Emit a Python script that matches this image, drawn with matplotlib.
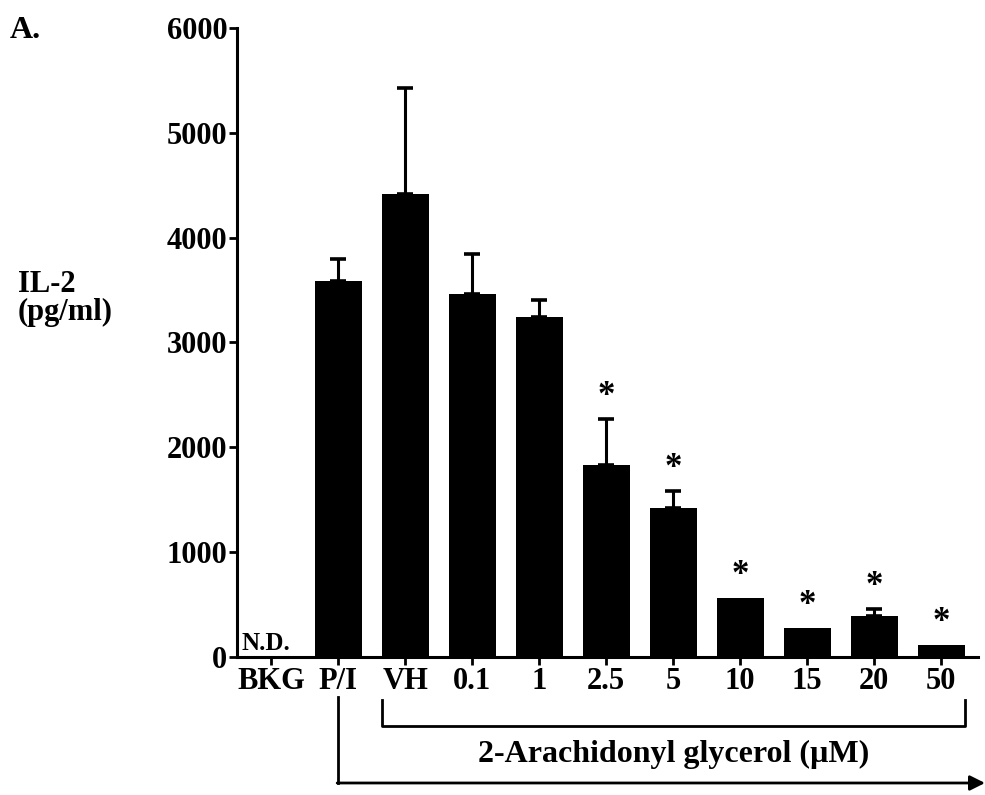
import numpy as np
import matplotlib.pyplot as plt
from matplotlib.transforms import blended_transform_factory

# IL-2 production, mean and upper error (pg/ml)
groups = ["BKG", "P/I", "VH", "0.1", "1", "2.5", "5", "10", "15", "20", "50"]
il2 = [0, 3590, 4420, 3460, 3240, 1830, 1420, 560, 275, 390, 115]
il2_err = [0, 210, 1010, 385, 165, 440, 165, 0, 0, 65, 0]
significant = [False, False, False, False, False, True, True, True, True, True, True]

plt.rcParams['font.family'] = ['Liberation Serif', 'DejaVu Serif']
plt.rcParams['font.weight'] = 'bold'

fig = plt.figure(figsize=(9.85, 7.95), dpi=100)
ax = fig.add_axes([0.2406, 0.1736, 0.7523, 0.7912])

x = np.arange(len(groups))
bar_w = 0.7
ax.bar(x, il2, width=bar_w, color='black', zorder=2)
yerr = np.vstack([np.zeros(len(il2_err)), il2_err])
has_err = np.array(il2_err) > 0
ax.errorbar(x[has_err], np.array(il2)[has_err], yerr=yerr[:, has_err],
            fmt='none', ecolor='black', elinewidth=2.2, capsize=5.5,
            capthick=2.6, zorder=1)

# significance stars above each bar / error bar
for xi, v, e, s in zip(x, il2, il2_err, significant):
    if s:
        ax.text(xi, v + e + 215, '*', ha='center', va='center',
                fontsize=25, fontweight='bold')

ax.text(-0.44, 20, 'N.D.', ha='left', va='bottom', fontsize=18,
        fontweight='bold')

ax.set_ylim(0, 6000)
ax.set_xlim(-0.51, 10.55)
ax.set_yticks(range(0, 6001, 1000))
ax.set_xticks(x)
ax.set_xticklabels(groups)
for side in ['top', 'right']:
    ax.spines[side].set_visible(False)
for side in ['left', 'bottom']:
    ax.spines[side].set_linewidth(2.2)
ax.tick_params(axis='both', length=5.5, width=2, pad=1.5, labelsize=22,
               direction='out')
for lab in ax.get_xticklabels() + ax.get_yticklabels():
    lab.set_fontweight('bold')

fig.text(0.010, 0.962, 'A.', fontsize=23, fontweight='bold', va='center')
fig.text(0.018, 0.625, 'IL-2\n(pg/ml)', fontsize=22, fontweight='bold',
         va='center', ha='left', linespacing=0.95)

# bracket under the 2-AG concentrations
tr = blended_transform_factory(ax.transData, fig.transFigure)
left = x[2] - bar_w / 2
right = x[-1] + bar_w / 2
ax.plot([left, left, right, right], [0.1195, 0.0868, 0.0868, 0.1195],
        color='black', lw=2, transform=tr, clip_on=False)
ax.text((left + right) / 2, 0.051, '2-Arachidonyl glycerol (µM)',
        transform=tr, ha='center', va='center', fontsize=23,
        fontweight='bold')

# arrow from P/I running along the bottom
ax.plot([x[1], x[1]], [0.123, 0.0151], color='black', lw=2,
        transform=tr, clip_on=False)
tr2 = blended_transform_factory(fig.transFigure, fig.transFigure)
x_pi = fig.transFigure.inverted().transform(ax.transData.transform((x[1], 0)))[0]
ax.annotate('', xy=(1.0, 0.0151), xytext=(x_pi - 0.001, 0.0151),
            xycoords=tr2, textcoords=tr2,
            arrowprops=dict(arrowstyle='-|>,head_length=0.9,head_width=0.45',
                            color='black', lw=2, shrinkA=0, shrinkB=0),
            annotation_clip=False)

fig.savefig('out.png', dpi=100)
